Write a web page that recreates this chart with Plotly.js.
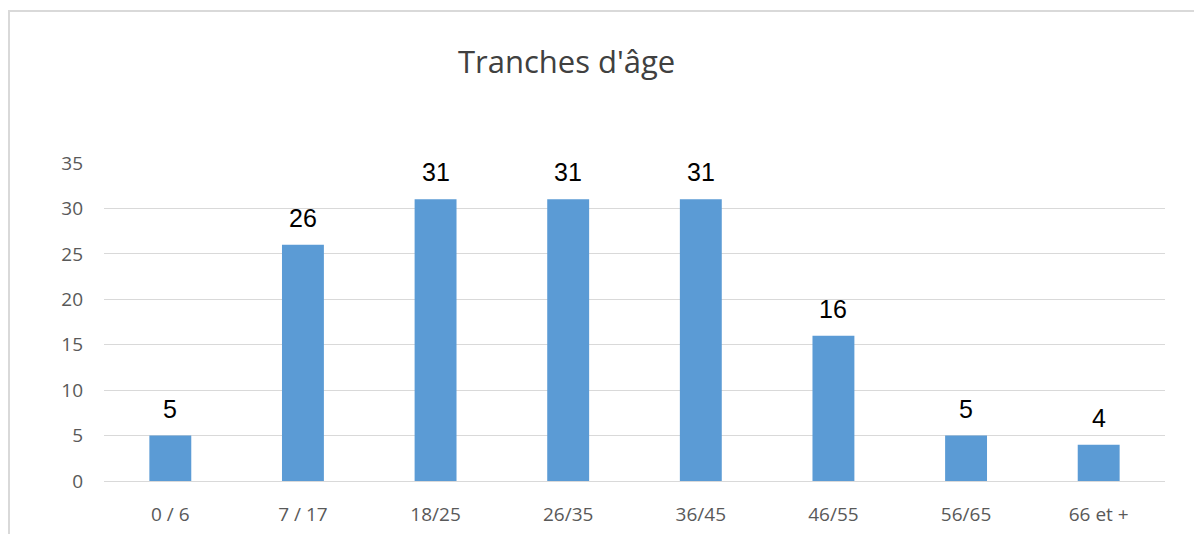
<!DOCTYPE html>
<html>
<head>
<meta charset="utf-8">
<script src="https://cdn.plot.ly/plotly-3.0.1.min.js"></script>
<style>
  html, body { margin: 0; padding: 0; background: #fff; }
  #wrap { position: relative; width: 1194px; height: 534px; overflow: hidden; }
  #chart { width: 1194px; height: 534px; }
  #frame { position: absolute; left: 8px; top: 10px; width: 1200px; height: 540px;
           border-top: 2px solid #d9d9d9; border-left: 2px solid #d9d9d9; pointer-events: none; }
</style>
</head>
<body>
<div id="wrap">
  <div id="chart"></div>
  <div id="frame"></div>
</div>
<script>
const categories = ["0 / 6", "7 / 17", "18/25", "26/35", "36/45", "46/55", "56/65", "66 et +"];
const values = [5, 26, 31, 31, 31, 16, 5, 4];
const yTicks = [0, 5, 10, 15, 20, 25, 30, 35];
const chartTitle = "Tranches d'âge";

const trace = {
  type: 'bar',
  x: categories,
  y: values,
  marker: { color: '#5b9bd5' },
  hoverinfo: 'none'
};

const annotations = categories.map((c, i) => ({
  x: c, y: values[i], xref: 'x', yref: 'y',
  text: String(values[i]), showarrow: false,
  yanchor: 'middle', yshift: 27,
  font: { family: 'Liberation Sans, Arial, sans-serif', size: 25, color: '#000000' }
}));

const layout = {
  width: 1194, height: 534,
  margin: { l: 104, r: 29, t: 163, b: 53 },
  paper_bgcolor: '#ffffff', plot_bgcolor: '#ffffff',
  bargap: 0.684,
  showlegend: false,
  title: {
    text: chartTitle,
    font: { family: 'Open Sans, sans-serif', size: 31, color: '#404040' },
    x: 0.436, xanchor: 'center', xref: 'paper',
    y: 1 - 62 / 534, yanchor: 'middle', yref: 'container'
  },
  xaxis: {
    type: 'category',
    showgrid: false, zeroline: false, showline: false,
    ticks: '',
    ticklabelstandoff: 20,
    tickfont: { family: 'Open Sans, sans-serif', size: 19, color: '#595959' }
  },
  yaxis: {
    range: [0, 35],
    tickvals: yTicks,
    showgrid: true, gridcolor: '#d9d9d9', gridwidth: 1,
    zeroline: true, zerolinecolor: '#d9d9d9', zerolinewidth: 1,
    showline: false, ticks: '',
    ticklabelstandoff: 20,
    tickfont: { family: 'Open Sans, sans-serif', size: 19, color: '#595959' }
  },
  annotations: annotations
};

Plotly.newPlot('chart', [trace], layout, { staticPlot: true, displayModeBar: false });
</script>
</body>
</html>
